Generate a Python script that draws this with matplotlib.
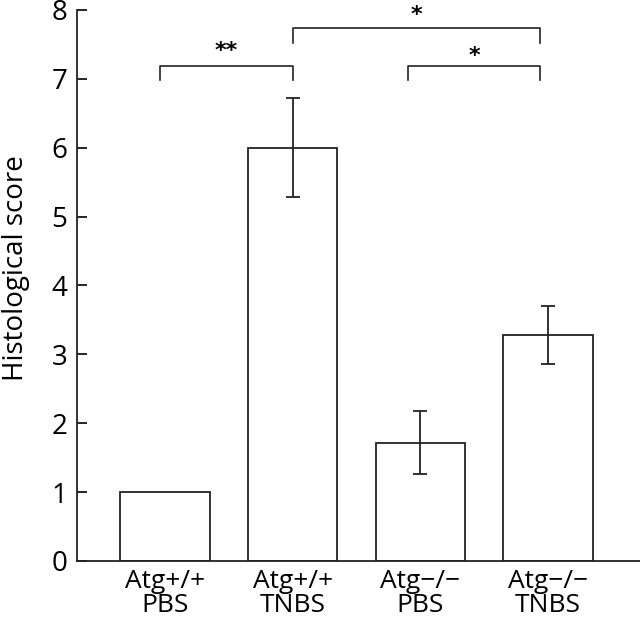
import matplotlib
matplotlib.use('Agg')
import matplotlib.pyplot as plt

# data
groups = ['Atg+/+\nPBS', 'Atg+/+\nTNBS', 'Atg\u2212/\u2212\nPBS', 'Atg\u2212/\u2212\nTNBS']
scores = [1.0, 6.0, 1.72, 3.28]
errors = [0.0, 0.72, 0.46, 0.42]

# significance brackets: (left x, right x, bracket y, leg y, label, label y)
brackets = [(-0.04, 1.0, 7.19, 6.98, '**', 7.40),
            (1.0, 2.94, 7.74, 7.52, '*', 7.93),
            (1.9, 2.94, 7.19, 6.98, '*', 7.33)]

plt.rcParams['font.family'] = ['Open Sans', 'DejaVu Sans']

fig = plt.figure(figsize=(6.4, 6.24), dpi=100)
ax = fig.add_axes([0.1203, 0.101, 0.8797, 0.883])

x = range(len(groups))
ax.bar(x, scores, width=0.7, color='white', edgecolor='#222222', linewidth=1.3)
for xi, s, e in zip(x, scores, errors):
    if e > 0:
        ax.errorbar(xi, s, yerr=e, fmt='none', ecolor='#222222',
                    elinewidth=1.3, capsize=5, capthick=1.3)

for x1, x2, yb, yl, lab, ly in brackets:
    ax.plot([x1, x1, x2, x2], [yl, yb, yb, yl], color='#222222', lw=1.2,
            clip_on=False)
    ax.text((x1 + x2) / 2, ly, lab, ha='center', va='center',
            fontsize=16, fontweight='bold', family='DejaVu Sans')

ax.set_xlim(-0.689, 3.72)
ax.set_ylim(0, 8)
ax.set_yticks(range(0, 9))
ax.set_xticks(list(x))
ax.set_xticklabels(groups, fontsize=19, linespacing=0.92)
ax.tick_params(axis='y', direction='in', length=7, width=1.2, labelsize=20, pad=7)
ax.tick_params(axis='x', length=0, pad=6)
ax.set_ylabel('Histological score', fontsize=20)
ax.yaxis.set_label_coords(-0.083, 0.532)

for side in ['top', 'right']:
    ax.spines[side].set_visible(False)
for side in ['left', 'bottom']:
    ax.spines[side].set_linewidth(1.3)
    ax.spines[side].set_color('#222222')

fig.savefig('out.png', dpi=100)
